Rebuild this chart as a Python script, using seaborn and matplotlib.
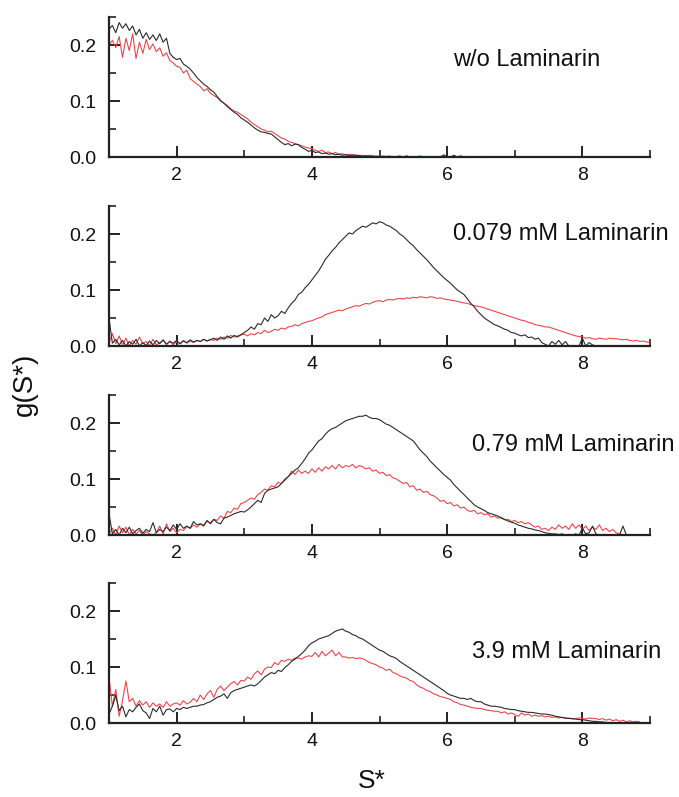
import numpy as np
import pandas as pd
import matplotlib
matplotlib.use("Agg")
import matplotlib.pyplot as plt
import seaborn as sns
from matplotlib.ticker import MultipleLocator

# ---------------- data (g(S*) values in units of 0.001, sampled every 0.05 from S*=1) ----------------
S_START = 1.0
S_STEP = 0.05

labels = ["w/o Laminarin", "0.079 mM Laminarin", "0.79 mM Laminarin", "3.9 mM Laminarin"]

p1_black = [228, 235, 222, 240, 230, 238, 226, 234, 218, 228, 212, 222, 210, 218, 208, 220, 205, 212, 185, 178,
            174, 176, 166, 162, 157, 150, 142, 136, 130, 126, 120, 116, 108, 101, 96, 90, 85, 80, 76, 70,
            66, 62, 57, 52, 48, 45, 44, 42, 41, 36, 31, 26, 22, 24, 20, 23, 22, 17, 14, 10,
            12, 8, 9, 6, 7, 5, 6, 4, 5, 3, 4, 2, 4, 2, 3, 1, 2, 1, 2, 0,
            1, 0, 1, 0, 1, 0, 1, 0, 2, 0, 1, 0, 0, 1, 0, 0, 1, 0, 0, 4,
            0, 0, 3, 0, 2, 0, 0, 1, 0, 0, 0, 1, 0]
p1_red = [200, 208, 195, 215, 178, 212, 190, 220, 176, 205, 185, 210, 192, 202, 188, 195, 180, 186, 172, 168,
          162, 160, 150, 155, 140, 135, 130, 126, 118, 122, 114, 110, 106, 100, 96, 92, 86, 82, 80, 76,
          72, 68, 62, 58, 54, 50, 48, 45, 46, 42, 38, 34, 32, 28, 26, 24, 22, 20, 18, 16,
          15, 12, 10, 12, 8, 9, 6, 8, 5, 6, 4, 5, 3, 4, 2, 3, 2, 3, 1, 2,
          1, 2, 1, 2, 0, 1, 2, 0, 1, 0, 1, 0, 2, 0, 1, 0]

p2_black = [50, 5, 12, 2, 10, 0, 8, 3, 12, 0, 6, 1, 9, 2, 10, 4, 11, 3, 8, 5,
            10, 4, 9, 6, 11, 7, 10, 8, 12, 9, 11, 14, 10, 16, 12, 18, 14, 19, 16, 20,
            24, 28, 34, 30, 40, 38, 50, 44, 56, 50, 54, 62, 58, 68, 76, 82, 92, 96, 104, 110,
            118, 126, 134, 144, 155, 162, 170, 176, 184, 190, 196, 202, 200, 206, 210, 214, 212, 216, 220, 218,
            222, 220, 216, 214, 210, 206, 200, 196, 190, 184, 179, 172, 166, 160, 154, 147, 140, 134, 128, 122,
            117, 112, 106, 100, 96, 92, 84, 76, 70, 62, 56, 50, 46, 42, 38, 36, 33, 30, 28, 24,
            23, 20, 18, 20, 15, 16, 12, 14, 6, 3, 0, 8, 3, 10, 2, 8, 0, 1, 0, 0,
            14, 0, 6, 2, 0]
p2_red = [5, 22, 4, 18, 2, 14, 0, 10, 3, 16, 4, 8, 0, 12, 2, 6, 10, 3, 9, 2,
          8, 4, 10, 5, 9, 6, 10, 8, 12, 9, 12, 10, 14, 12, 16, 14, 19, 16, 18, 20,
          21, 18, 22, 20, 24, 22, 28, 24, 26, 30, 28, 32, 30, 34, 35, 38, 36, 40, 42, 44,
          45, 48, 50, 52, 56, 58, 60, 62, 64, 63, 66, 68, 70, 72, 71, 74, 76, 75, 78, 80,
          81, 79, 82, 83, 82, 84, 85, 84, 86, 85, 87, 86, 88, 87, 86, 88, 87, 85, 86, 84,
          83, 82, 81, 80, 78, 77, 76, 74, 72, 71, 70, 68, 66, 64, 62, 60, 58, 56, 54, 52,
          50, 48, 46, 45, 42, 41, 38, 37, 36, 34, 34, 32, 30, 28, 26, 24, 22, 20, 18, 17,
          16, 14, 15, 13, 12, 14, 13, 12, 14, 13, 13, 12, 11, 12, 10, 9, 10, 8, 9, 7,
          6]

p3_black = [38, 2, 10, 0, 12, 4, 14, 2, 8, 12, 3, 10, 6, 22, 4, 10, 6, 14, 8, 18,
            10, 20, 12, 16, 12, 24, 18, 20, 16, 26, 20, 28, 22, 20, 30, 32, 35, 38, 40, 42,
            41, 45, 50, 56, 62, 58, 74, 80, 82, 84, 86, 92, 98, 104, 110, 116, 120, 128, 136, 146,
            152, 160, 168, 172, 180, 186, 190, 192, 196, 200, 204, 206, 208, 210, 212, 212, 214, 210, 208, 208,
            206, 202, 198, 196, 192, 188, 184, 180, 176, 172, 168, 160, 152, 146, 140, 132, 126, 120, 114, 108,
            103, 98, 90, 84, 78, 72, 66, 60, 54, 50, 47, 44, 40, 38, 36, 34, 30, 28, 25, 23,
            21, 18, 16, 14, 12, 11, 9, 8, 6, 4, 3, 2, 2, 1, 2, 0, 1, 0, 2, 0,
            12, 2, 4, 16, 2, 0, 1, 0, 0, 0, 0, 0, 16, 0]
p3_red = [2, 12, 0, 16, 4, 14, 0, 10, 2, 8, 0, 6, 2, 0, 4, 16, 2, 20, 6, 12,
          4, 10, 8, 15, 12, 18, 14, 20, 18, 24, 22, 28, 26, 34, 30, 42, 40, 48, 46, 56,
          58, 62, 66, 64, 72, 76, 82, 80, 88, 86, 94, 92, 100, 104, 114, 108, 116, 110, 114, 110,
          118, 112, 120, 114, 122, 118, 124, 118, 126, 120, 124, 122, 126, 120, 124, 122, 118, 120, 114, 116,
          110, 112, 106, 108, 102, 100, 96, 92, 94, 86, 88, 80, 82, 76, 78, 72, 70, 66, 60, 62,
          56, 58, 52, 54, 48, 50, 44, 42, 44, 38, 40, 36, 38, 32, 34, 30, 32, 27, 28, 24,
          26, 22, 24, 20, 22, 18, 14, 16, 10, 12, 8, 14, 10, 18, 12, 16, 10, 20, 12, 18,
          10, 16, 8, 14, 10, 18, 8, 12, 6, 10, 4, 2]

p4_black = [16, 30, 49, 22, 30, 11, 24, 20, 28, 34, 22, 18, 8, 26, 20, 30, 14, 24, 25, 20,
            26, 24, 28, 26, 28, 30, 30, 32, 33, 36, 38, 42, 46, 48, 52, 44, 54, 58, 60, 62,
            64, 66, 68, 66, 70, 76, 82, 86, 90, 88, 94, 92, 99, 104, 110, 114, 119, 124, 130, 138,
            143, 146, 150, 152, 154, 156, 160, 164, 166, 168, 164, 162, 158, 156, 152, 150, 146, 142, 138, 134,
            130, 128, 124, 120, 118, 115, 110, 106, 102, 98, 94, 90, 86, 82, 78, 74, 70, 66, 62, 58,
            53, 50, 48, 46, 44, 44, 42, 44, 40, 38, 38, 34, 32, 30, 30, 29, 28, 26, 25, 24,
            24, 22, 21, 20, 19, 19, 18, 17, 16, 16, 15, 14, 12, 11, 10, 9, 8, 8, 7, 6,
            6, 5, 4, 3, 3, 2, 2, 1, 1]
p4_red = [81, 30, 60, 12, 40, 75, 38, 44, 30, 40, 32, 38, 28, 36, 30, 34, 28, 38, 30, 34,
          36, 32, 40, 34, 37, 44, 38, 50, 42, 52, 58, 46, 60, 66, 58, 64, 70, 74, 68, 76,
          75, 82, 78, 88, 93, 86, 96, 100, 99, 108, 104, 112, 110, 114, 112, 116, 116, 114, 118, 120,
          119, 126, 118, 128, 120, 125, 130, 120, 126, 118, 118, 116, 117, 115, 116, 115, 112, 108, 106, 104,
          100, 98, 94, 96, 90, 88, 84, 82, 80, 76, 74, 68, 64, 62, 58, 56, 52, 50, 47, 46,
          44, 42, 38, 36, 33, 32, 30, 28, 27, 26, 26, 24, 23, 22, 21, 21, 18, 20, 16, 18,
          15, 12, 18, 14, 16, 12, 14, 12, 13, 11, 12, 10, 11, 9, 10, 8, 9, 7, 8, 9,
          8, 7, 9, 8, 8, 6, 8, 5, 7, 4, 6, 3, 5, 2, 4, 2, 3, 2]

panels = [(p1_black, p1_red), (p2_black, p2_red), (p3_black, p3_red), (p4_black, p4_red)]

x_ticks = [2, 4, 6, 8]
y_ticks = [0.0, 0.1, 0.2]

# ---------------- styling ----------------
sns.set_style("ticks")
plt.rcParams["font.family"] = ["Liberation Sans", "DejaVu Sans"]
plt.rcParams["xtick.direction"] = "in"
plt.rcParams["ytick.direction"] = "in"

BLACK = "#2b2b2b"
RED = "#e8474c"

fig = plt.figure(figsize=(6.79, 7.97), dpi=100)
W, H = 679, 797
left_px, right_px = 109, 650
bottoms_px = [157, 346, 535, 723]
height_px = 140
text_pos = [(6.09, 0.173), (6.09, 0.200), (6.37, 0.161), (6.37, 0.127)]


def to_frame(vals):
    vals = np.asarray(vals, dtype=float) / 1000.0
    s = S_START + S_STEP * np.arange(len(vals))
    return pd.DataFrame({"S": s, "g": vals})


for k, ((blk, red), lab) in enumerate(zip(panels, labels)):
    b = bottoms_px[k]
    ax = fig.add_axes([left_px / W, 1 - b / H, (right_px - left_px) / W, height_px / H])
    dr = to_frame(red)
    db = to_frame(blk)
    sns.lineplot(data=dr, x="S", y="g", ax=ax, color=RED, lw=0.8, sort=False, estimator=None)
    sns.lineplot(data=db, x="S", y="g", ax=ax, color=BLACK, lw=0.8, sort=False, estimator=None)
    ax.set_xlim(1, 9)
    ax.set_ylim(0, 0.25)
    ax.set_xticks(x_ticks)
    ax.set_yticks(y_ticks)
    ax.set_xticklabels([str(v) for v in x_ticks])
    ax.set_yticklabels([f"{v:.1f}" for v in y_ticks])
    ax.xaxis.set_minor_locator(MultipleLocator(1))
    ax.yaxis.set_minor_locator(MultipleLocator(0.05))
    ax.tick_params(which="major", direction="in", length=8, width=1.4, color="#222222",
                   labelsize=14, pad=7, labelcolor="#111111")
    ax.tick_params(which="minor", direction="in", length=5, width=1.2, color="#222222")
    ax.tick_params(axis="y", which="major", pad=9)
    for sp in ["top", "right"]:
        ax.spines[sp].set_visible(False)
    for sp in ["left", "bottom"]:
        ax.spines[sp].set_linewidth(1.6)
        ax.spines[sp].set_color("#222222")
    ax.set_xlabel("")
    ax.set_ylabel("")
    ax.text(text_pos[k][0], text_pos[k][1], lab, fontsize=17, color="#111111",
            ha="left", va="center")
    ax.patch.set_visible(False)

fig.text(25 / W, 1 - 384 / H, "g(S*)", rotation=90, fontsize=20, ha="center", va="center",
         color="#111111")
fig.text(372 / W, 1 - 781 / H, "S*", fontsize=19, ha="center", va="center", color="#111111")

fig.savefig("out.png", dpi=100, facecolor="white")
